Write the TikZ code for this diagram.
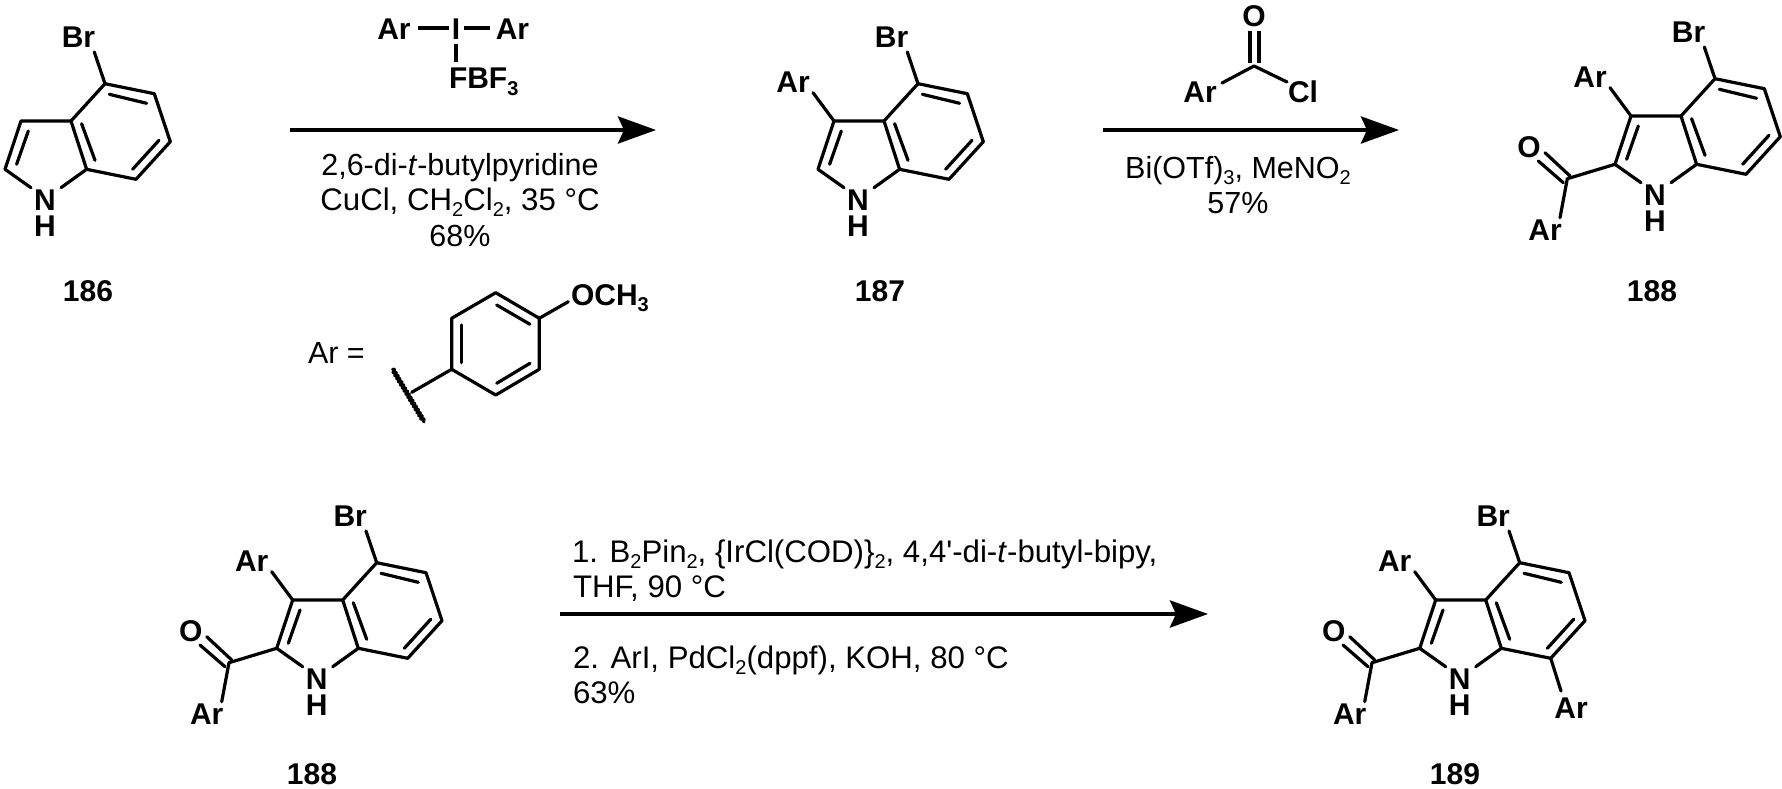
\documentclass[tikz,border=0pt]{standalone}
\usepackage{fontspec}
\setmainfont{Liberation Sans}
\usetikzlibrary{arrows.meta,decorations.pathmorphing}
\newcommand{\lowr}[1]{\raisebox{-6.5pt}{\fontsize{20}{20}\selectfont #1}}
\tikzset{
  x=1pt,y=-1pt,
  bond/.style={line width=3.2pt,line cap=round,line join=round},
  atom/.style={inner sep=0pt,outer sep=0pt,font=\fontsize{30}{30}\selectfont\bfseries},
  cmpd/.style={atom},
  reagent/.style={inner sep=0pt,outer sep=0pt,font=\fontsize{30.5}{30.5}\selectfont,anchor=base},
  reagentwide/.style={reagent,font=\fontsize{31.2}{31.2}\selectfont},
  rxn/.style={line width=4.4pt,-{Stealth[length=38pt,width=27pt,inset=6pt]}},
}
% indole core: #1 prefix, (#2,#3) position of C3a
\newcommand{\indole}[3]{%
  \begin{scope}[shift={(#2,#3)}]
    \coordinate (#1c3a) at (0,0);
    \coordinate (#1c3) at (-50,0);
    \coordinate (#1c2) at (-66,48.3);
    \coordinate (#1c4) at (34,-37.3);
    \coordinate (#1c5) at (83.3,-27.3);
    \coordinate (#1c6) at (99.3,20.7);
    \coordinate (#1c7) at (65,58.3);
    \coordinate (#1c7a) at (15.6,48.3);
    \coordinate (#1nl) at (-40,66.7);
    \coordinate (#1nr) at (-10,66.7);
    \coordinate (#1brb) at (23.3,-69);
    \node[atom] (#1n) at (-26,79) {N};
    \node[atom] (#1h) at (-26,105.5) {H};
    \node[atom] (#1br) at (7.5,-83.5) {Br};
    \coordinate (#1i1) at (38.3,-26.7);
    \coordinate (#1i2) at (75.6,-17.7);
    \coordinate (#1i3) at (88,19.3);
    \coordinate (#1i4) at (61.6,48.3);
    \coordinate (#1i5) at (10.6,2.7);
    \coordinate (#1i6) at (24,39.3);
    \coordinate (#1i7) at (-42.7,10);
    \coordinate (#1i8) at (-54.4,43.3);
    \draw[bond] (#1nl) -- (#1c2) -- (#1c3) -- (#1c3a) -- (#1c4) -- (#1c5) -- (#1c6) -- (#1c7) -- (#1c7a) -- (#1nr);
    \draw[bond] (#1c3a) -- (#1c7a);
    \draw[bond] (#1c4) -- (#1brb);
    \draw[bond] (#1i1) -- (#1i2);
    \draw[bond] (#1i3) -- (#1i4);
    \draw[bond] (#1i5) -- (#1i6);
    \draw[bond] (#1i7) -- (#1i8);
  \end{scope}}
% aryl on C3: #1 prefix, (#2,#3) position of C3a
\newcommand{\arylthree}[3]{%
  \begin{scope}[shift={(#2,#3)}]
    \node[atom] (#1ar) at (-91,-39) {Ar};
    \coordinate (#1arb) at (-71,-28.3);
    \draw[bond] (#1c3) -- (#1arb);
  \end{scope}}
% aroyl on C2
\newcommand{\aroyl}[3]{%
  \begin{scope}[shift={(#2,#3)}]
    \coordinate (#1co) at (-113.7,62.7);
    \node[atom] (#1o) at (-152,31) {O};
    \node[atom] (#1ar2) at (-136,114) {Ar};
    \coordinate (#1arc) at (-121,101.7);
    \coordinate (#1d1) at (-142.7,45);
    \coordinate (#1d2) at (-117.7,66.7);
    \coordinate (#1d3) at (-136,36.7);
    \coordinate (#1d4) at (-111,60);
    \draw[bond] (#1c2) -- (#1co) -- (#1arc);
    \draw[bond] (#1d1) -- (#1d2);
    \draw[bond] (#1d3) -- (#1d4);
  \end{scope}}
\begin{document}
\begin{tikzpicture}
\useasboundingbox (0,0) rectangle (1782,789);
\fill[white] (0,0) rectangle (1782,789);

% 186
\indole{a}{71}{121}
\node[cmpd] (l186) at (88,291) {186};

% 187
\indole{b}{884}{121}
\arylthree{b}{884}{121}
\node[cmpd] (l187) at (880,291) {187};

% 188 top
\indole{c}{1681}{116}
\arylthree{c}{1681}{116}
\aroyl{c}{1681}{116}
\node[cmpd] (l188a) at (1652,291) {188};

% 188 bottom
\indole{d}{342.7}{600}
\arylthree{d}{342.7}{600}
\aroyl{d}{342.7}{600}
\node[cmpd] (l188b) at (312,774) {188};

% 189
\indole{e}{1485.7}{600}
\arylthree{e}{1485.7}{600}
\aroyl{e}{1485.7}{600}
\node[atom] (ear7) at (1571,708) {Ar};
\coordinate (ear7b) at (1561,691);
\draw[bond] (ec7) -- (ear7b);
\node[cmpd] (l189) at (1455,774) {189};

% arrows
\coordinate (r1a) at (290,130); \coordinate (r1b) at (656,130);
\coordinate (r2a) at (1103,130); \coordinate (r2b) at (1399,130);
\coordinate (r3a) at (560,614); \coordinate (r3b) at (1208,614);
\draw[rxn] (r1a) -- (r1b);
\draw[rxn] (r2a) -- (r2b);
\draw[rxn] (r3a) -- (r3b);

% diaryliodonium
\node[atom] (iar1) at (394,29) {Ar};
\node[atom] (iod) at (456,29) {I};
\node[atom] (iar2) at (512.5,29) {Ar};
\node[atom,anchor=base west] (ibf) at (449,89) {FBF\lowr{3}};
\coordinate (ib1) at (418,28); \coordinate (ib2) at (449,28);
\coordinate (ib3) at (464,28); \coordinate (ib4) at (490,28);
\coordinate (ib5) at (456,44); \coordinate (ib6) at (456,62);
\draw[bond,line cap=butt] (ib1) -- (ib2);
\draw[bond,line cap=butt] (ib3) -- (ib4);
\draw[bond,line cap=butt] (ib5) -- (ib6);

\node[reagent] (t1a) at (460,175) {2,6-di-\textit{t}-butylpyridine};
\node[reagentwide] (t1b) at (460,210) {CuCl, CH\lowr{2}Cl\lowr{2}, 35 °C};
\node[reagent] (t1c) at (460,246) {68\%};

% acid chloride
\node[atom] (ro) at (1254,16) {O};
\node[atom] (rar) at (1200,92) {Ar};
\node[atom] (rcl) at (1303,92) {Cl};
\coordinate (rc) at (1254,66);
\coordinate (rd1) at (1250,31); \coordinate (rd2) at (1250,63);
\coordinate (rd3) at (1259,31); \coordinate (rd4) at (1259,63);
\coordinate (rb1) at (1222,83); \coordinate (rb2) at (1287,82);
\draw[bond,line cap=butt] (rd1) -- (rd2);
\draw[bond,line cap=butt] (rd3) -- (rd4);
\draw[bond] (rb1) -- (rc) -- (rb2);

\node[reagent] (t2a) at (1238,178) {Bi(OTf)\lowr{3}, MeNO\lowr{2}};
\node[reagent] (t2b) at (1238,213) {57\%};

% Ar definition
\node[reagent,anchor=base west] (areq) at (308,363) {Ar =};
\coordinate (g1) at (495.7,292.7);
\coordinate (g2) at (539.3,318.3);
\coordinate (g3) at (539.3,369.3);
\coordinate (g4) at (495.7,395);
\coordinate (g5) at (451.7,369.3);
\coordinate (g6) at (451.7,318.3);
\coordinate (gi1) at (496.7,305); \coordinate (gi2) at (530,324.3);
\coordinate (gi3) at (530,363.3); \coordinate (gi4) at (496.7,383.3);
\coordinate (gi5) at (461.7,325); \coordinate (gi6) at (461.7,362.7);
\coordinate (gs) at (411.7,392.3);
\coordinate (gw1) at (392.7,369.3); \coordinate (gw2) at (424,421.7);
\coordinate (go) at (568.3,301.7);
\draw[bond] (g1) -- (g2) -- (g3) -- (g4) -- (g5) -- (g6) -- cycle;
\draw[bond] (gi1) -- (gi2);
\draw[bond] (gi3) -- (gi4);
\draw[bond] (gi5) -- (gi6);
\draw[bond] (g5) -- (gs);
\draw[bond,line width=3.4pt,decorate,decoration={snake,segment length=3.6pt,amplitude=1.3pt}] (gw1) -- (gw2);
\draw[bond] (g2) -- (go);
\node[atom,anchor=base west] (och) at (571,305) {OCH\lowr{3}};

% third reagents
\node[reagentwide,anchor=base west] (t3a) at (572,562) {1. B\lowr{2}Pin\lowr{2}, \{IrCl(COD)\}\lowr{2}, 4,4\textquotesingle-di-\textit{t}-butyl-bipy,};
\node[reagentwide,anchor=base west] (t3b) at (573,597) {THF, 90 °C};
\node[reagentwide,anchor=base west] (t3c) at (573,668) {2. ArI, PdCl\lowr{2}(dppf), KOH, 80 °C};
\node[reagentwide,anchor=base west] (t3d) at (573,703) {63\%};
\end{tikzpicture}
\end{document}
